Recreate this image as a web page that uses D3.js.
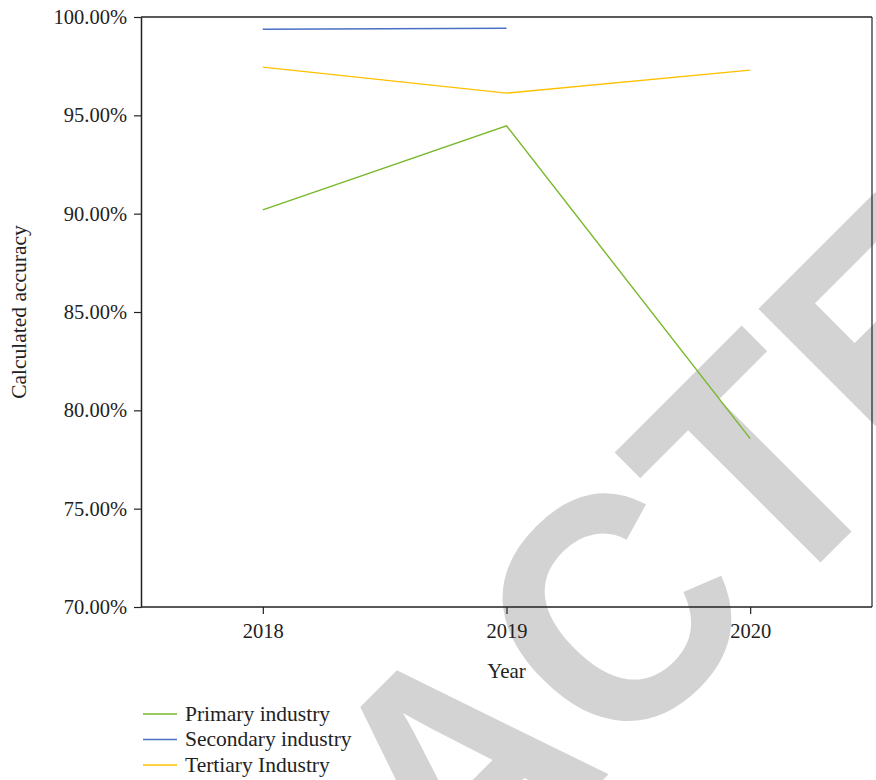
<!DOCTYPE html>
<html><head><meta charset="utf-8">
<script src="https://cdn.jsdelivr.net/npm/d3@7"></script>
<style>body{margin:0;background:#fff}svg{display:block}</style>
</head><body>
<script>
const years = ["2018", "2019", "2020"];
const seriesNames = ["Primary industry", "Secondary industry", "Tertiary Industry"];
const seriesColors = ["#77b82a", "#4a6fc4", "#ffc000"];
const primary = [0.9019, 0.9447, 0.7856];
const secondary = [0.9938, 0.9943, null];
const tertiary = [0.9745, 0.9613, 0.9730];
const yTicks = [0.70, 0.75, 0.80, 0.85, 0.90, 0.95, 1.00];
const watermark = "RETRACTED";

const W = 876, H = 780;
const m = {left: 141, right: 872, top: 17, bottom: 607};
const svg = d3.select("body").append("svg").attr("width", W).attr("height", H);
const font = "'Liberation Serif', 'Times New Roman', serif";

// watermark behind everything
svg.append("text").text(watermark)
  .attr("transform", "translate(536.5,846.5) rotate(-45) scale(1,1.064)")
  .attr("text-anchor", "middle")
  .attr("font-family", "'Liberation Sans', Arial, sans-serif")
  .attr("font-weight", "bold").attr("font-size", 305)
  .attr("fill", "#d3d3d3");

const x = d3.scalePoint().domain(years).range([m.left, m.right]).padding(0.5);
const y = d3.scaleLinear().domain([0.70, 1.00]).range([m.bottom, m.top]);

const data = [primary, secondary, tertiary];
const line = d3.line().defined(d => d.v != null).x(d => x(d.year)).y(d => y(d.v));
data.forEach((s, i) => {
  svg.append("path")
    .datum(s.map((v, j) => ({year: years[j], v})))
    .attr("d", line).attr("fill", "none")
    .attr("stroke", seriesColors[i]).attr("stroke-width", 1.4);
});

// frame
svg.append("line").attr("x1", m.left).attr("x2", m.right).attr("y1", m.top).attr("y2", m.top).attr("stroke", "#222").attr("stroke-width", 1.5);
svg.append("line").attr("x1", m.right).attr("x2", m.right).attr("y1", m.top).attr("y2", m.bottom).attr("stroke", "#222").attr("stroke-width", 1.2);

const yAxis = svg.append("g").attr("transform", `translate(${m.left},0)`)
  .call(d3.axisLeft(y).tickValues(yTicks).tickFormat(d3.format(".2%")).tickSize(7).tickPadding(7).tickSizeOuter(0));
const xAxis = svg.append("g").attr("transform", `translate(0,${m.bottom})`)
  .call(d3.axisBottom(x).tickSize(7).tickPadding(9).tickSizeOuter(0));
[yAxis, xAxis].forEach(g => {
  g.select(".domain").attr("stroke", "#222").attr("stroke-width", 1.5);
  g.selectAll(".tick line").attr("stroke", "#222").attr("stroke-width", 1.2);
  g.selectAll("text").attr("font-family", font).attr("font-size", 20.5).attr("fill", "#222");
});
xAxis.select(".domain").attr("d", `M${m.left},0H${m.right}`);

svg.append("text").text("Year").attr("x", x("2019")).attr("y", 678)
  .attr("text-anchor", "middle").attr("font-family", font).attr("font-size", 21).attr("fill", "#222");
svg.append("text").text("Calculated accuracy")
  .attr("transform", `translate(26,${(m.top + m.bottom) / 2}) rotate(-90)`)
  .attr("text-anchor", "middle").attr("font-family", font).attr("font-size", 21.5).attr("fill", "#222");

const leg = svg.append("g");
seriesNames.forEach((n, i) => {
  const yy = 714 + i * 25.5;
  leg.append("line").attr("x1", 143).attr("x2", 177).attr("y1", yy).attr("y2", yy)
    .attr("stroke", seriesColors[i]).attr("stroke-width", 1.4);
  leg.append("text").text(n).attr("x", 185).attr("y", yy + 6.5)
    .attr("font-family", font).attr("font-size", 21.5).attr("fill", "#222");
});
</script>
</body></html>
